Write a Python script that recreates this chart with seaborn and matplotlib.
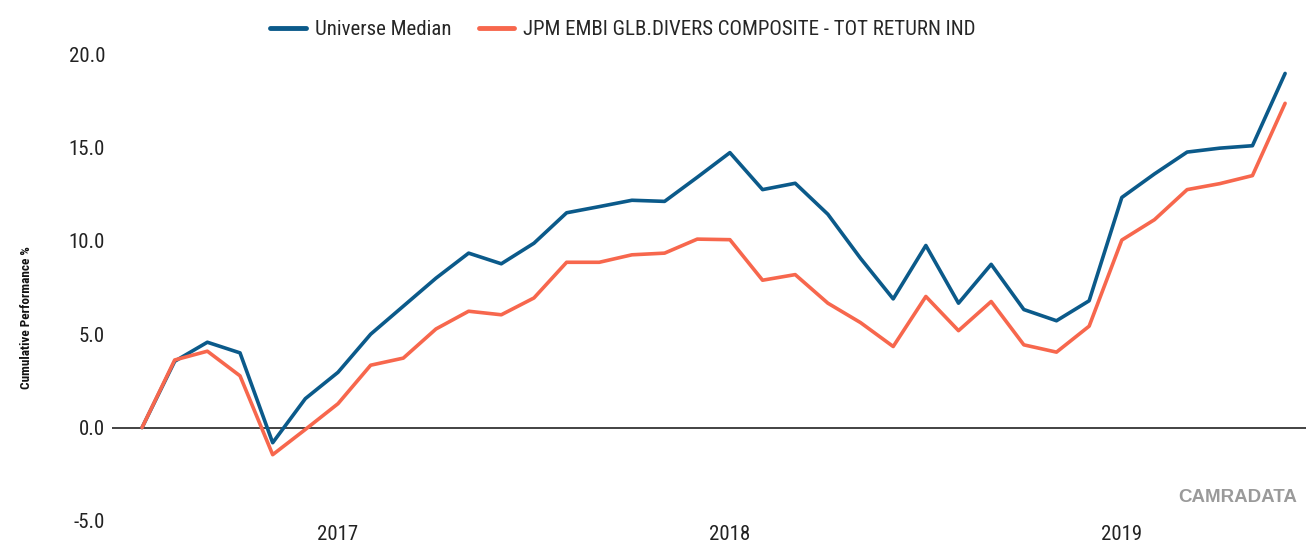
import pandas as pd
import seaborn as sns
import matplotlib.pyplot as plt

# Monthly cumulative performance, Jul 2016 - Jun 2019
months = list(pd.date_range("2016-07-01", "2019-06-01", freq="MS").strftime("%b %Y"))

universe_median = [0.0, 3.55, 4.57, 4.0, -0.81, 1.55, 2.96, 5.0, 6.5, 8.0,
                   9.34, 8.77, 9.87, 11.5, 11.83, 12.17, 12.11, 13.4, 14.72, 12.74,
                   13.08, 11.42, 9.06, 6.89, 9.75, 6.66, 8.74, 6.32, 5.72, 6.79,
                   12.32, 13.58, 14.75, 14.96, 15.09, 18.96]
jpm_embi = [0.0, 3.62, 4.09, 2.77, -1.45, -0.1, 1.28, 3.34, 3.72, 5.28,
            6.23, 6.04, 6.94, 8.85, 8.85, 9.25, 9.34, 10.09, 10.06, 7.89,
            8.19, 6.66, 5.62, 4.34, 7.02, 5.19, 6.75, 4.43, 4.04, 5.43,
            10.04, 11.13, 12.74, 13.06, 13.49, 17.36]

series_names = ["Universe Median", "JPM EMBI GLB.DIVERS COMPOSITE - TOT RETURN IND"]
colors = ["#0b5a8a", "#f7674d"]
year_ticks = ["Jan 2017", "Jan 2018", "Jan 2019"]
year_labels = ["2017", "2018", "2019"]
y_ticks = [-5, 0, 5, 10, 15, 20]

df = pd.DataFrame({
    "month": months * 2,
    "value": universe_median + jpm_embi,
    "series": [series_names[0]] * len(months) + [series_names[1]] * len(months),
})

sns.set_theme(style="white")
plt.rcParams["font.family"] = ["Roboto Condensed", "DejaVu Sans"]

fig = plt.figure(figsize=(13.06, 5.54), dpi=100)
ax = fig.add_axes([112 / 1306, 1 - 521 / 554, 1 - 112 / 1306, (521 - 54) / 554])

sns.lineplot(data=df, x="month", y="value", hue="series", palette=colors,
             sort=False, linewidth=2.6, ax=ax)

ax.axhline(0, color="#222222", linewidth=1.2, zorder=1)

ax.set_ylim(-5, 20)
ax.set_xlim(-0.92, 35.64)
ax.set_yticks(y_ticks)
ax.set_yticklabels([f"{v:.1f}" for v in y_ticks])
ax.set_xticks(year_ticks)
ax.set_xticklabels(year_labels)
ax.tick_params(axis="both", length=0, labelsize=15, labelcolor="#222222")
ax.tick_params(axis="y", pad=5)
ax.tick_params(axis="x", pad=3)
ax.set_xlabel("")
ax.set_ylabel("Cumulative Performance %", fontsize=9.5, fontweight="bold",
              color="#111111")
ax.yaxis.set_label_coords((33 - 112) / 1194, (521 - 318) / 467)
sns.despine(ax=ax, left=True, bottom=True)

sns.move_legend(ax, "upper center", bbox_to_anchor=(0.428, 1.113), ncol=2,
                frameon=False, title=None, fontsize=15, handlelength=1.7,
                handletextpad=0.45, columnspacing=1.3)
for line in ax.get_legend().get_lines():
    line.set_linewidth(3.5)

fig.text(1297 / 1306, 1 - 498 / 554, "CAMRADATA", ha="right", va="center",
         family=["Liberation Sans", "DejaVu Sans"], fontsize=13.5,
         fontweight="bold", color="#9a9a9a")

fig.savefig("out.png", dpi=100)
